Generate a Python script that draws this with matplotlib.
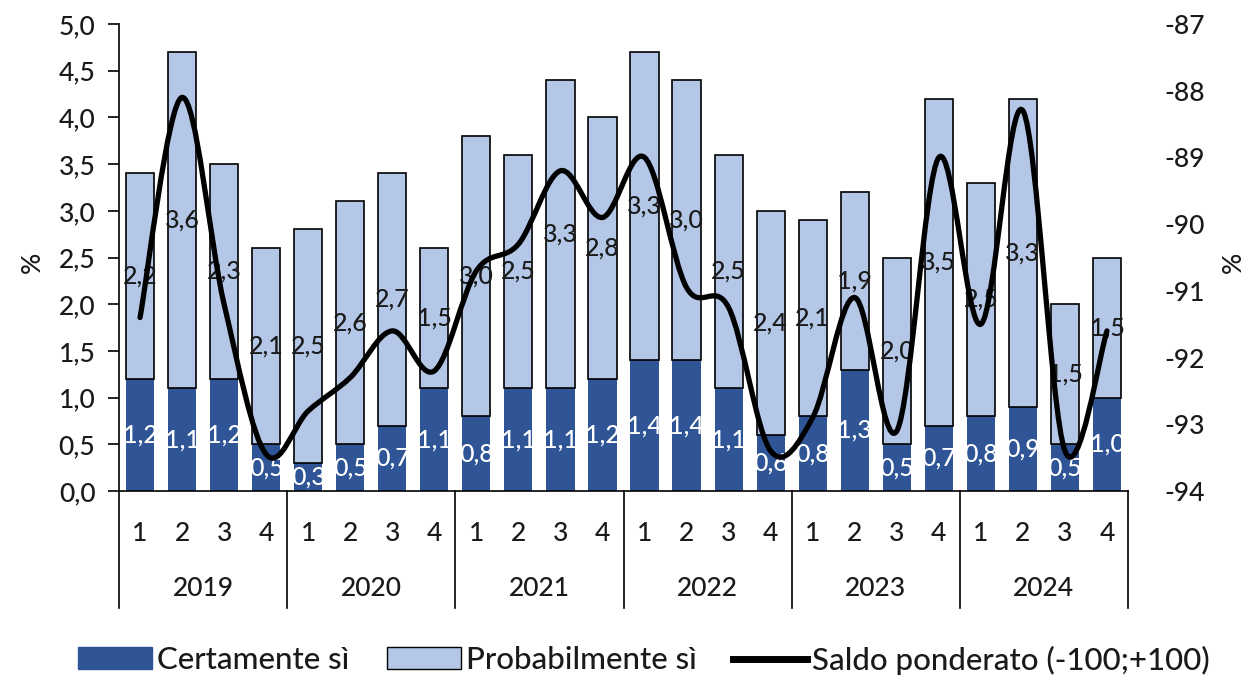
import matplotlib.pyplot as plt
from matplotlib.patches import Patch, PathPatch
from matplotlib.lines import Line2D
from matplotlib.path import Path
import matplotlib.transforms as mtransforms

plt.rcParams['font.family'] = ['Lato', 'DejaVu Sans']
plt.rcParams['font.weight'] = 'medium'

# data
years = ['2019', '2020', '2021', '2022', '2023', '2024']
quarters = ['1', '2', '3', '4']
certamente = [1.2, 1.1, 1.2, 0.5, 0.3, 0.5, 0.7, 1.1, 0.8, 1.1, 1.1, 1.2,
              1.4, 1.4, 1.1, 0.6, 0.8, 1.3, 0.5, 0.7, 0.8, 0.9, 0.5, 1.0]
probabilmente = [2.2, 3.6, 2.3, 2.1, 2.5, 2.6, 2.7, 1.5, 3.0, 2.5, 3.3, 2.8,
                 3.3, 3.0, 2.5, 2.4, 2.1, 1.9, 2.0, 3.5, 2.5, 3.3, 1.5, 1.5]
saldo = [-91.4, -88.1, -91.2, -93.45, -92.8, -92.3, -91.6, -92.2,
         -90.7, -90.3, -89.2, -89.9, -89.0, -90.95, -91.25, -93.4,
         -92.9, -91.1, -93.1, -89.0, -91.5, -88.3, -93.4, -91.6]

dark = '#2F5597'
light = '#B4C7E7'
txt = '#1a1a1a'
fs = 19


def fmt(v):
    return f'{v:.1f}'.replace('.', ',')


fig = plt.figure(figsize=(12.43, 6.77), dpi=100)
ax = fig.add_axes([119 / 1243, 1 - 491 / 677, (1128 - 119) / 1243, 467 / 677])

x = list(range(len(certamente)))
ax.bar(x, certamente, width=0.67, color=dark, zorder=2)
ax.bar(x, probabilmente, width=0.67, bottom=certamente, color=light,
       edgecolor='black', linewidth=1.2, zorder=2)

for i in x:
    c, p = certamente[i], probabilmente[i]
    ax.text(i, c / 2, fmt(c), ha='center', va='center', color='white', fontsize=18, zorder=3)
    ax.text(i, c + p / 2, fmt(p), ha='center', va='center', color=txt, fontsize=18, zorder=3)

ax.set_xlim(-0.5, len(x) - 0.5)
ax.set_ylim(0, 5)
ax.set_yticks([i * 0.5 for i in range(11)])
ax.set_yticklabels([fmt(i * 0.5) for i in range(11)], fontsize=fs, color=txt)
ax.tick_params(axis='y', length=8, width=1.2, pad=9, direction='out')
ax.set_xticks([])
ax.spines['top'].set_visible(False)
ax.spines['right'].set_visible(False)
for s in ['left', 'bottom']:
    ax.spines[s].set_linewidth(1.2)

trans = mtransforms.blended_transform_factory(ax.transData, ax.transAxes)
for i in x:
    ax.text(i, -0.09, quarters[i % 4], ha='center', va='center', fontsize=fs,
            color=txt, transform=trans)
for k in range(len(years) + 1):
    ax.plot([k * 4 - 0.5, k * 4 - 0.5], [0, -0.25], color='black', lw=1.2,
            transform=trans, clip_on=False)
for k, yr in enumerate(years):
    ax.text(k * 4 + 1.5, -0.208, yr, ha='center', va='center', fontsize=fs,
            color=txt, transform=trans)

# axis titles
ax.text(-0.086, 0.49, '%', rotation=90, ha='center', va='center', fontsize=fs,
        color=txt, transform=ax.transAxes)
ax.text(1.104, 0.49, '%', rotation=90, ha='center', va='center', fontsize=fs,
        color=txt, transform=ax.transAxes)

ax2 = ax.twinx()
ax2.set_ylim(-94, -87)
ax2.set_yticks(range(-94, -86))
ax2.set_yticklabels([str(v) for v in range(-94, -86)], fontsize=fs, color=txt)
ax2.tick_params(axis='y', length=0, pad=26)
for s in ax2.spines.values():
    s.set_visible(False)

# smoothed line (Catmull-Rom style Bezier through the points)
pts = list(zip(x, saldo))
verts = [pts[0]]
codes = [Path.MOVETO]
n = len(pts)
for i in range(n - 1):
    p0 = pts[max(i - 1, 0)]
    p1 = pts[i]
    p2 = pts[i + 1]
    p3 = pts[min(i + 2, n - 1)]
    c1 = (p1[0] + (p2[0] - p0[0]) / 6, p1[1] + (p2[1] - p0[1]) / 6)
    c2 = (p2[0] - (p3[0] - p1[0]) / 6, p2[1] - (p3[1] - p1[1]) / 6)
    verts += [c1, c2, p2]
    codes += [Path.CURVE4] * 3
ax2.add_patch(PathPatch(Path(verts, codes), fill=False, edgecolor='black',
                        linewidth=3.8, capstyle='round', joinstyle='round', zorder=5))

leg_y = 1 - 660 / 677
common = dict(loc='center left', frameon=False, fontsize=22.5, borderpad=0,
              borderaxespad=0, handlelength=2.37, handleheight=0.7,
              handletextpad=0.16, labelcolor=txt)
fig.legend(handles=[Patch(facecolor=dark, edgecolor=dark, label='Certamente sì')],
           bbox_to_anchor=(78 / 1243, leg_y), **common)
fig.legend(handles=[Patch(facecolor=light, edgecolor='black', label='Probabilmente sì')],
           bbox_to_anchor=(387 / 1243, leg_y), **common)
fig.legend(handles=[Line2D([], [], color='black', lw=5, label='Saldo ponderato (-100;+100)')],
           bbox_to_anchor=(733 / 1243, leg_y), **common)

fig.savefig('out.png', dpi=100)
